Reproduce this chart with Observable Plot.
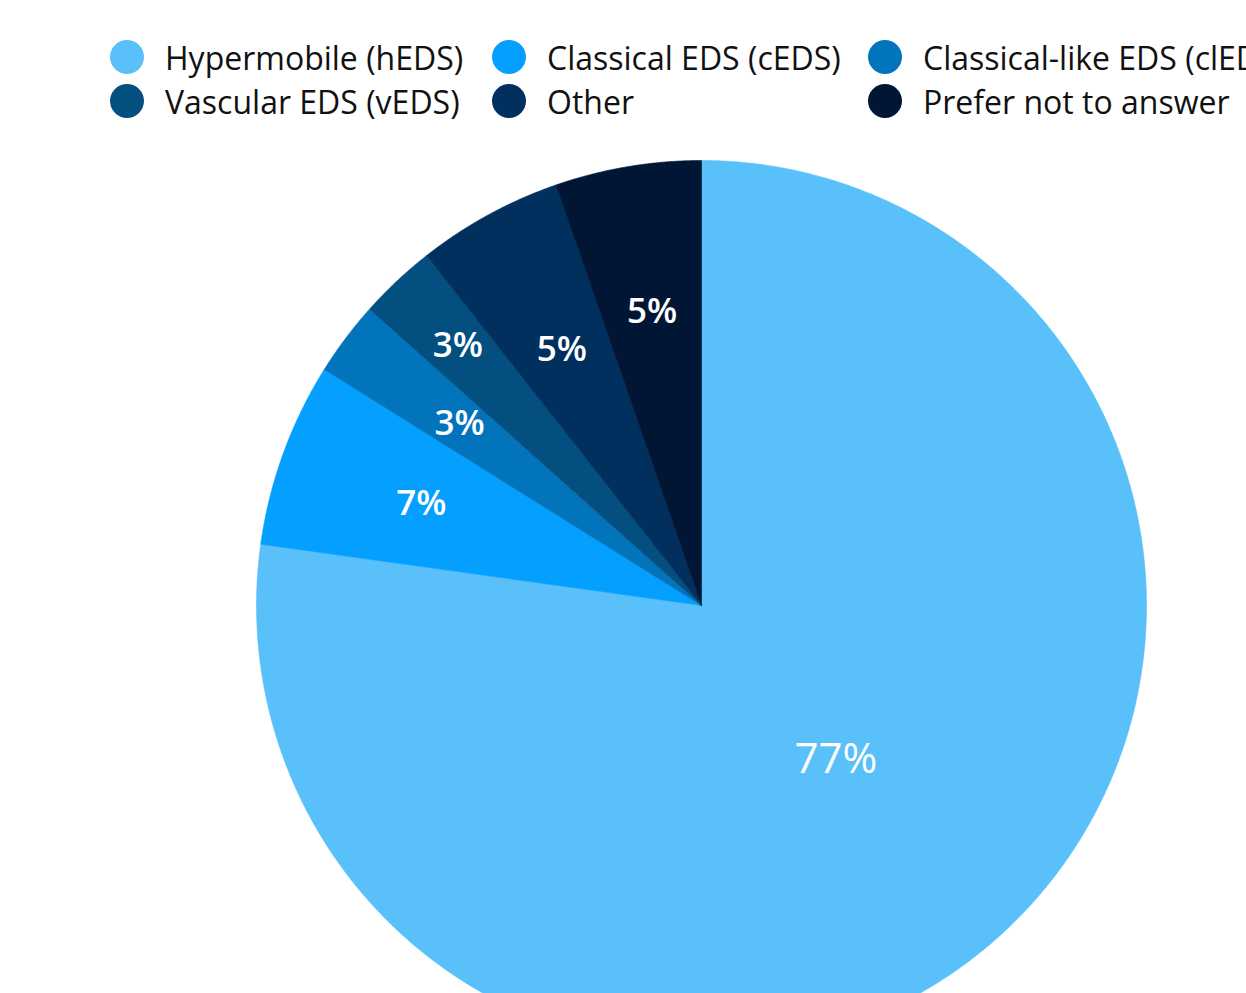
<!DOCTYPE html>
<html>
<head>
<meta charset="utf-8">
<script src="https://cdn.jsdelivr.net/npm/d3@7"></script>
<script src="https://cdn.jsdelivr.net/npm/@observablehq/plot@0.6"></script>
<style>
  html, body { margin: 0; padding: 0; background: #fff; overflow: hidden; }
  #wrap { width: 1246px; height: 993px; overflow: hidden; position: relative; }
  #legend { position: relative; width: 1246px; height: 135px; overflow: hidden; font-family: "Open Sans", sans-serif; font-size: 32px; color: #111; }
  .dot { position: absolute; width: 34px; height: 34px; border-radius: 50%; }
  .lab { position: absolute; white-space: nowrap; line-height: 1; }
</style>
</head>
<body>
<div id="wrap">
  <div id="legend"></div>
  <div id="chart"></div>
</div>
<script>
const categories = ["Hypermobile (hEDS)", "Classical EDS (cEDS)", "Classical-like EDS (clEDS)", "Vascular EDS (vEDS)", "Other", "Prefer not to answer"];
const shares = [77.2, 6.7, 2.7, 2.8, 5.3, 5.3];
const labels = ["77%", "7%", "3%", "3%", "5%", "5%"];
const colors = ["#59C0FA", "#059FFF", "#0274BC", "#034F80", "#02305E", "#011634"];

// layout constants (pixels)
const W = 1246, LEG_H = 135, H = 993 - LEG_H;
const CX = 701, CY = 605 - LEG_H, R = 445;
const labelRadius = [0.46, 0.67, 0.68, 0.80, 0.655, 0.67];
const labelSize = [42, 35, 35, 35, 35, 35];

// legend
const legend = document.getElementById("legend");
const colX = [127, 509, 885];
const rowY = [57, 101];
categories.forEach((c, i) => {
  const col = i % 3, row = Math.floor(i / 3);
  const dot = document.createElement("div");
  dot.className = "dot";
  dot.style.background = colors[i];
  dot.style.left = (colX[col] - 17) + "px";
  dot.style.top = (rowY[row] - 17) + "px";
  legend.appendChild(dot);
  const t = document.createElement("div");
  t.className = "lab";
  t.textContent = c;
  t.style.left = (colX[col] + 38) + "px";
  t.style.top = (rowY[row] - 15) + "px";
  legend.appendChild(t);
});

// pie geometry (data units: radius = 1, angle clockwise from 12 o'clock)
const total = d3.sum(shares);
let acc = 0;
const slices = categories.map((c, i) => {
  const a0 = acc / total * 2 * Math.PI;
  acc += shares[i];
  const a1 = acc / total * 2 * Math.PI;
  return {category: c, a0, a1, label: labels[i], i};
});
const polys = [];
for (const s of slices) {
  polys.push({category: s.category, x: 0, y: 0});
  const n = Math.max(4, Math.ceil((s.a1 - s.a0) / (Math.PI / 720)));
  for (let k = 0; k <= n; k++) {
    const a = s.a0 + (s.a1 - s.a0) * k / n;
    polys.push({category: s.category, x: Math.sin(a), y: Math.cos(a)});
  }
  polys.push({category: s.category, x: 0, y: 0});
}
const labelPts = slices.map(s => {
  const m = (s.a0 + s.a1) / 2, r = labelRadius[s.i];
  return {label: s.label, x: r * Math.sin(m), y: r * Math.cos(m), size: labelSize[s.i]};
});

const plot = Plot.plot({
  width: W,
  height: H,
  margin: 0,
  x: {domain: [-CX / R, (W - CX) / R], axis: null},
  y: {domain: [-(H - CY) / R, CY / R], axis: null},
  color: {domain: categories, range: colors},
  style: {fontFamily: "'Open Sans', sans-serif", background: "#fff"},
  marks: [
    Plot.line(polys, {x: "x", y: "y", z: "category", fill: "category", stroke: "category", strokeWidth: 0.6, curve: "linear"}),
    Plot.text(labelPts.filter(d => d.size === 42), {x: "x", y: "y", text: "label", fill: "white", fontSize: 42, fontWeight: 500, textAnchor: "middle"}),
    Plot.text(labelPts.filter(d => d.size !== 42), {x: "x", y: "y", text: "label", fill: "white", fontSize: 35, fontWeight: 600, textAnchor: "middle"})
  ]
});
document.getElementById("chart").appendChild(plot);
</script>
</body>
</html>
